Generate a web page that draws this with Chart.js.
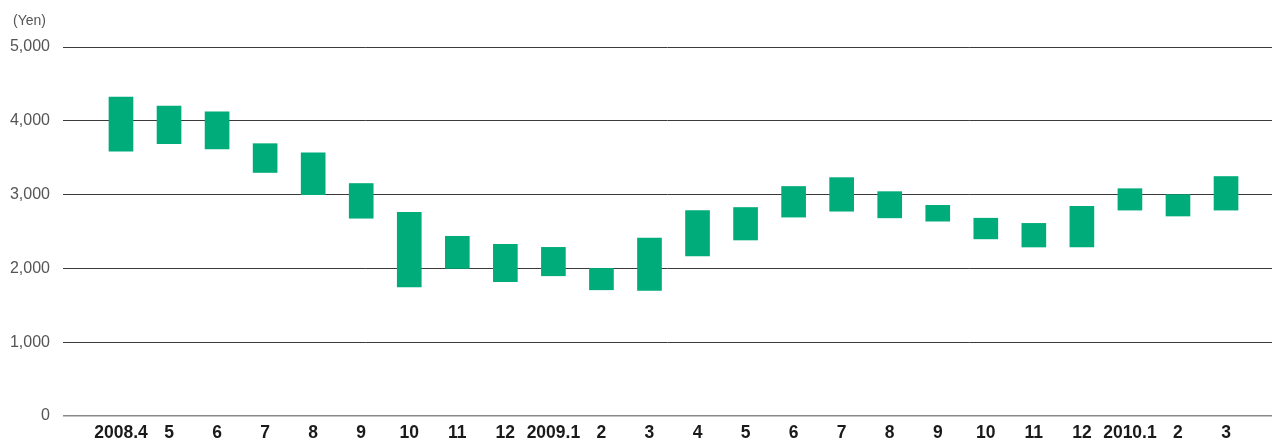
<!DOCTYPE html>
<html>
<head>
<meta charset="utf-8">
<script src="https://cdn.jsdelivr.net/npm/chart.js@4"></script>
<style>
  html, body { margin: 0; padding: 0; background: #fff; }
  #wrap { width: 1272px; height: 440px; position: relative; }
</style>
</head>
<body>
<div id="wrap"><canvas id="chart"></canvas></div>
<script>
const months = ['2008.4','5','6','7','8','9','10','11','12','2009.1','2','3',
                '4','5','6','7','8','9','10','11','12','2010.1','2','3'];
const lows  = [3590, 3690, 3620, 3300, 3000, 2680, 1750, 2000, 1820, 1900, 1710, 1700,
               2170, 2385, 2695, 2775, 2685, 2640, 2400, 2290, 2290, 2790, 2710, 2790];
const highs = [4320, 4200, 4120, 3690, 3565, 3150, 2760, 2435, 2325, 2285, 2000, 2410,
               2785, 2825, 3110, 3230, 3040, 2855, 2680, 2610, 2840, 3080, 3000, 3245];
const yTicks = [0, 1000, 2000, 3000, 4000, 5000];

// "(Yen)" unit label above the axis
const unitLabel = {
    id: 'unitLabel',
    afterDraw(chart) {
        const ctx = chart.ctx;
        ctx.save();
        ctx.font = '14px "Liberation Sans", Arial, sans-serif';
        ctx.fillStyle = '#555';
        ctx.textBaseline = 'middle';
        ctx.fillText('(Yen)', 13, 21);
        ctx.restore();
    }
};

new Chart(document.getElementById('chart'), {
    type: 'bar',
    data: {
        datasets: [{
            data: months.map((m, i) => ({ x: i, y: [lows[i], highs[i]] })),
            backgroundColor: '#00ac7a',
            borderWidth: 0,
            barThickness: 24
        }]
    },
    options: {
        responsive: true,
        maintainAspectRatio: false,
        animation: false,
        layout: { padding: { left: 0, top: 47, right: 0, bottom: 0 } },
        plugins: { legend: { display: false }, tooltip: { enabled: false } },
        scales: {
            x: {
                type: 'linear',
                offset: false,
                min: -1.207,
                max: 23.957,
                afterBuildTicks: s => { s.ticks = months.map((m, i) => ({ value: i })); },
                afterFit: s => { s.height = 24; },
                grid: { display: false, drawTicks: false },
                border: { display: false },
                ticks: {
                    autoSkip: false,
                    maxRotation: 0,
                    padding: 7,
                    color: '#1a1a1a',
                    font: { family: '"Liberation Sans", Arial, sans-serif', size: 17.5, weight: 'bold' },
                    callback: v => months[v]
                }
            },
            y: {
                min: 0,
                max: 5000,
                afterBuildTicks: s => { s.ticks = yTicks.map(v => ({ value: v })); },
                afterFit: s => { s.width = 63; },
                border: { display: false },
                grid: {
                    drawTicks: false,
                    color: c => c.tick.value === 0 ? '#8a8a8a' : '#3a3a3a',
                    lineWidth: c => c.tick.value === 0 ? 1.5 : 1
                },
                ticks: {
                    padding: 13,
                    color: '#555',
                    font: { family: '"Liberation Sans", Arial, sans-serif', size: 16 },
                    callback: v => v.toLocaleString('en-US')
                }
            }
        }
    },
    plugins: [unitLabel]
});
</script>
</body>
</html>
